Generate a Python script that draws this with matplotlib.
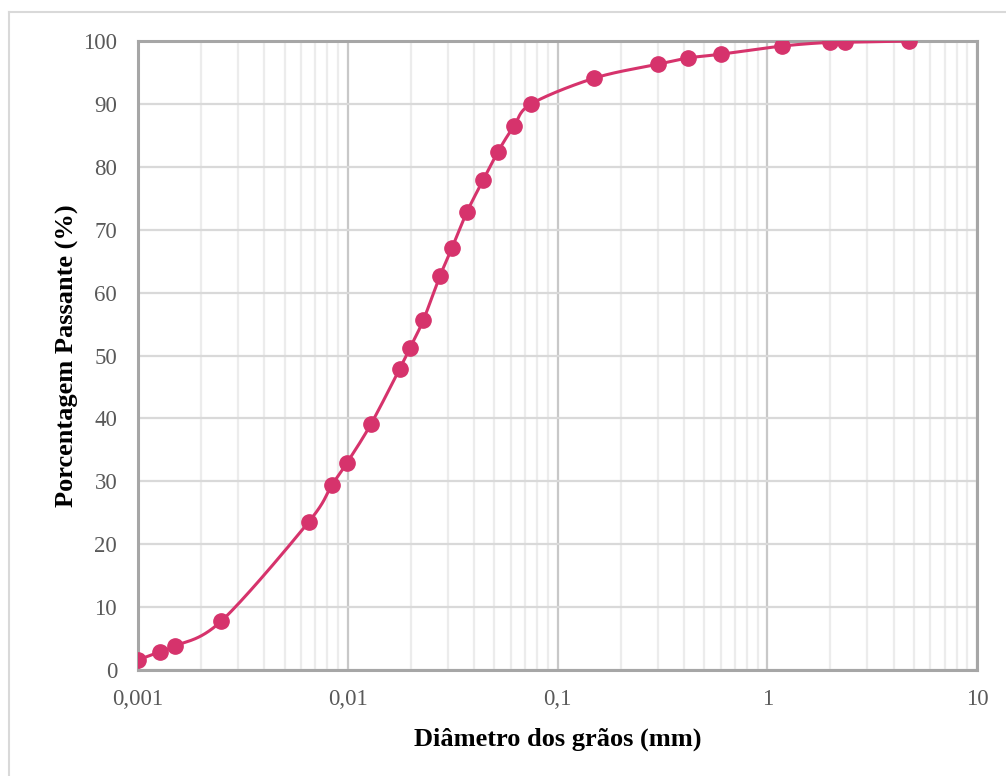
import numpy as np
import matplotlib.pyplot as plt
from matplotlib.lines import Line2D
from matplotlib.ticker import FixedLocator, LogLocator, NullFormatter

# Grain size distribution (sedimentation + sieving)
diametro_mm = [0.001, 0.00127, 0.0015, 0.0025, 0.0065, 0.0084, 0.0099, 0.0129,
               0.0177, 0.0198, 0.0229, 0.0275, 0.0314, 0.037, 0.0442, 0.052,
               0.0621, 0.075, 0.15, 0.3, 0.42, 0.6, 1.18, 2.0, 2.36, 4.75]
passante = [1.6, 2.9, 3.8, 7.8, 23.5, 29.4, 32.9, 39.1, 47.9, 51.2, 55.6, 62.6,
            67.1, 72.8, 77.9, 82.4, 86.5, 90.0, 94.1, 96.3, 97.3, 97.9, 99.2,
            99.8, 99.8, 100.0]

x_ticks = [0.001, 0.01, 0.1, 1, 10]
x_tick_labels = ["0,001", "0,01", "0,1", "1", "10"]
y_ticks = list(range(0, 101, 10))

COR = "#d6336c"
plt.rcParams["font.family"] = ["Liberation Serif", "DejaVu Serif"]


def curva_suave(x, y, n=30):
    """Catmull-Rom curve through the points, in log10(x) space."""
    lx = np.log10(np.asarray(x, float))
    yy = np.asarray(y, float)
    px = np.concatenate([[2 * lx[0] - lx[1]], lx, [2 * lx[-1] - lx[-2]]])
    py = np.concatenate([[2 * yy[0] - yy[1]], yy, [2 * yy[-1] - yy[-2]]])
    xs, ys = [], []
    t = np.linspace(0, 1, n, endpoint=False)
    for i in range(1, len(px) - 2):
        for arr, out in ((px, xs), (py, ys)):
            p0, p1, p2, p3 = arr[i - 1:i + 3]
            out.extend(0.5 * (2 * p1 + (-p0 + p2) * t
                              + (2 * p0 - 5 * p1 + 4 * p2 - p3) * t ** 2
                              + (-p0 + 3 * p1 - 3 * p2 + p3) * t ** 3))
    xs.append(lx[-1])
    ys.append(yy[-1])
    return 10 ** np.array(xs), np.array(ys)


fig = plt.figure(figsize=(10.06, 7.76), dpi=100)
ax = fig.add_axes([138 / 1006, 1 - 670 / 776, 839 / 1006, 629 / 776])

xs, ys = curva_suave(diametro_mm, passante)
ax.plot(xs, ys, color=COR, lw=2.2, zorder=3)
ax.plot(diametro_mm, passante, "o", color=COR, ms=11, zorder=4)

ax.set_xscale("log")
ax.set_xlim(0.001, 10)
ax.set_ylim(0, 100)
ax.xaxis.set_major_locator(FixedLocator(x_ticks))
ax.set_xticklabels(x_tick_labels)
ax.xaxis.set_minor_locator(LogLocator(base=10, subs=np.arange(2, 10)))
ax.xaxis.set_minor_formatter(NullFormatter())
ax.set_yticks(y_ticks)

ax.grid(True, which="major", axis="x", color="#c8c8c8", lw=1.6, zorder=1)
ax.grid(True, which="minor", axis="x", color="#ececec", lw=1.6, zorder=1)
ax.grid(True, which="major", axis="y", color="#d9d9d9", lw=1.6, zorder=1)
ax.set_axisbelow(True)

for sp in ax.spines.values():
    sp.set_color("#a6a6a6")
    sp.set_linewidth(2.2)

ax.tick_params(axis="both", which="both", length=0, labelsize=16.5,
               labelcolor="#595959")
ax.tick_params(axis="x", pad=14)
ax.tick_params(axis="y", pad=15)

ax.set_xlabel("Diâmetro dos grãos (mm)", fontsize=19, fontweight="bold",
              labelpad=12)
ax.set_ylabel("Porcentagem Passante (%)", fontsize=19, fontweight="bold",
              labelpad=3)

# light border of the chart area (left and top edges)
fig.add_artist(Line2D([9 / 1006, 9 / 1006], [0, 1 - 12 / 776],
                      color="#d9d9d9", lw=1.5))
fig.add_artist(Line2D([9 / 1006, 1], [1 - 12 / 776, 1 - 12 / 776],
                      color="#d9d9d9", lw=1.5))

fig.savefig("out.png", dpi=100)
